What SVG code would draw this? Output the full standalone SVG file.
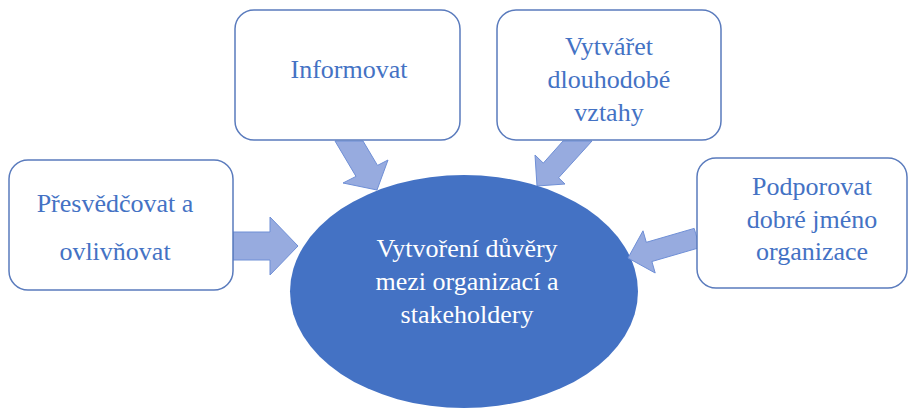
<svg xmlns="http://www.w3.org/2000/svg" width="909" height="410" viewBox="0 0 909 410">
<style>
.box{fill:#ffffff;stroke:#5a7bbd;stroke-width:1.5}
.arrow{fill:#97abdf;stroke:#6f8fd6;stroke-width:1}
.t{font-family:'Liberation Serif','Times New Roman',serif;font-size:26px;fill:#4472c4;text-anchor:middle}
.w{fill:#ffffff}
</style>
<rect width="909" height="410" fill="#ffffff"/>
<g id="connectors">
<polygon class="arrow" points="233,232 270,232 270,217 298,246 270,275 270,260 233,260"/>
<polygon class="arrow" points="335,141 363,141 377.5,165.4 388,160 377,190 343,183 356,176.4"/>
<polygon class="arrow" points="563,141 592,141 558.6,177.8 565,184 537,186 535,155 543.3,163.1"/>
</g>
<g id="center">
<ellipse cx="464" cy="291.5" rx="174" ry="116.5" fill="#4472c4"/>
<text class="t w" x="467" y="257">Vytvoření důvěry</text>
<text class="t w" x="467" y="290">mezi organizací a</text>
<text class="t w" x="467" y="323">stakeholdery</text>
</g>
<g id="arrow-right">
<polygon class="arrow" points="694.2,228.4 646.3,242.3 643,230.8 628,258 655.2,273 651.9,261.5 699.8,247.6"/>
</g>
<g id="node-presvedcovat">
<rect class="box" x="9" y="160" width="224" height="130" rx="19"/>
<text class="t" x="115" y="212">Přesvědčovat a</text>
<text class="t" x="115" y="260">ovlivňovat</text>
</g>
<g id="node-informovat">
<rect class="box" x="235" y="10" width="225" height="130" rx="19"/>
<text class="t" x="349" y="78">Informovat</text>
</g>
<g id="node-vytvaret">
<rect class="box" x="497" y="10" width="224" height="130" rx="19"/>
<text class="t" x="609" y="55">Vytvářet</text>
<text class="t" x="609" y="88">dlouhodobé</text>
<text class="t" x="609" y="121">vztahy</text>
</g>
<g id="node-podporovat">
<rect class="box" x="697" y="158" width="210" height="130" rx="19"/>
<text class="t" x="812" y="195">Podporovat</text>
<text class="t" x="812" y="228">dobré jméno</text>
<text class="t" x="812" y="260">organizace</text>
</g>
</svg>
